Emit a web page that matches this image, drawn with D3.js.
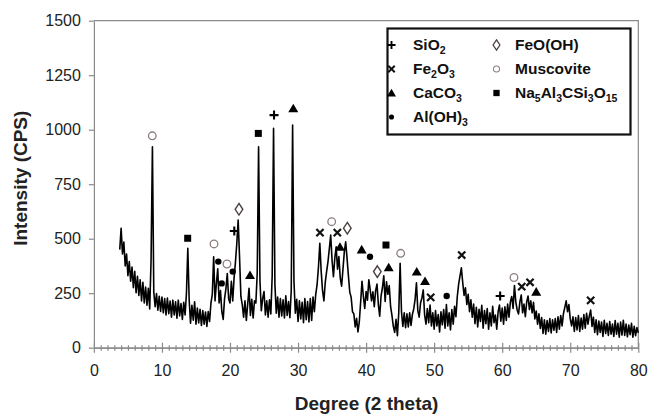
<!DOCTYPE html>
<html>
<head>
<meta charset="utf-8">
<script src="https://cdn.jsdelivr.net/npm/d3@7"></script>
<style>
  body { margin: 0; background: #fff; }
  text { font-family: "Liberation Sans", Arial, sans-serif; }
</style>
</head>
<body>
<svg id="xrd" width="648" height="416"></svg>
<script>
// scan: start angle and step (degrees 2 theta)
var startAngle = 3.8;
var stepAngle = 0.2;

// intensity, one value per step
var counts = [
  450, 548, 430, 485, 375, 430, 330, 395, 305, 370,
  275, 350, 252, 328, 240, 312, 215, 300, 205, 278,
  195, 272, 178, 400, 922, 255, 188, 248, 172, 236,
  166, 232, 160, 225, 150, 228, 156, 214, 140, 218,
  150, 210, 135, 218, 146, 202, 130, 208, 150, 250,
  456, 220, 112, 195, 126, 210, 108, 182, 114, 176,
  102, 170, 108, 164, 98, 166, 120, 205, 245, 417,
  215, 295, 362, 205, 262, 165, 130, 225, 270, 340,
  225, 205, 305, 215, 320, 392, 478, 586, 418, 235,
  198, 140, 215, 125, 200, 273, 148, 222, 136, 215,
  205, 340, 922, 310, 170, 225, 258, 150, 215, 140,
  220, 155, 330, 1006, 290, 158, 232, 140, 225, 146,
  220, 136, 238, 148, 212, 138, 262, 1021, 305, 158,
  222, 120, 215, 132, 208, 115, 225, 128, 212, 118,
  225, 125, 232, 165, 245, 290, 370, 479, 350, 262,
  215, 300, 350, 395, 455, 517, 400, 326, 410, 463,
  360, 418, 320, 282, 360, 440, 486, 410, 330, 255,
  232, 165, 155, 95, 135, 72, 118, 210, 305, 235,
  180, 258, 218, 312, 265, 215, 256, 188, 262, 292,
  198, 145, 238, 275, 330, 212, 302, 245, 285, 188,
  148, 98, 70, 130, 55, 160, 387, 165, 98, 160,
  92, 155, 95, 160, 102, 152, 178, 222, 298, 170,
  140, 205, 228, 265, 150, 108, 180, 115, 196, 100,
  160, 85, 170, 100, 152, 72, 165, 105, 175, 90,
  198, 100, 160, 82, 175, 108, 190, 142, 235, 292,
  330, 366, 298, 240, 275, 198, 245, 165, 220, 140,
  200, 110, 185, 95, 176, 120, 195, 90, 170, 110,
  180, 85, 160, 100, 190, 115, 150, 85, 165, 196,
  122, 182, 108, 188, 125, 200, 140, 210, 235, 180,
  285, 210, 172, 155, 210, 242, 160, 200, 142, 210,
  237, 175, 215, 160, 208, 132, 168, 108, 155, 88,
  138, 65, 128, 62, 124, 75, 134, 68, 128, 80,
  134, 70, 142, 85, 148, 100, 156, 185, 215, 165,
  198, 132, 100, 142, 75, 138, 82, 148, 75, 136,
  85, 152, 90, 158, 108, 145, 173, 98, 140, 70,
  128, 60, 122, 70, 118, 52, 126, 65, 112, 56,
  120, 62, 108, 52, 125, 62, 112, 48, 118, 58,
  126, 56, 108, 50, 104, 60, 112, 48, 98, 55,
  92, 68
];

var xTicks = [0, 10, 20, 30, 40, 50, 60, 70, 80];
var yTicks = [0, 250, 500, 750, 1000, 1250, 1500];

// phase labels, placed at [2 theta, CPS]
var sio2Peaks = [[20.63, 535], [26.47, 1067], [59.7, 237]];
var fe2o3Peaks = [[33.22, 528], [35.77, 528], [49.49, 231], [54.05, 425], [62.87, 280], [64.09, 300], [73.0, 217]];
var caco3Peaks = [[22.94, 333], [29.3, 1098], [36.16, 463], [39.35, 451], [43.32, 369], [47.44, 349], [48.66, 306], [65.0, 257]];
var aloh3Peaks = [[18.28, 395], [18.78, 295], [20.4, 349], [40.57, 417], [51.84, 237]];
var feoohPeaks = [[21.32, 635], [37.24, 548], [41.65, 349]];
var muscovitePeaks = [[8.58, 972], [17.65, 476], [19.55, 384], [34.94, 578], [45.08, 433], [61.73, 322]];
var naPeaks = [[13.78, 502], [24.16, 983], [42.92, 471]];

var phases = [
  {name: "SiO2", mark: "plus", peaks: sio2Peaks},
  {name: "Fe2O3", mark: "cross", peaks: fe2o3Peaks},
  {name: "CaCO3", mark: "triangle", peaks: caco3Peaks},
  {name: "Al(OH)3", mark: "dot", peaks: aloh3Peaks},
  {name: "FeO(OH)", mark: "diamond", peaks: feoohPeaks},
  {name: "Muscovite", mark: "circle", peaks: muscovitePeaks},
  {name: "Na5Al3CSi3O15", mark: "square", peaks: naPeaks}
];

var svg = d3.select("#xrd"),
  margin = {top: 20.7, right: 9.7, bottom: 68.3, left: 93.9},
  width = +svg.attr("width") - margin.left - margin.right,
  height = +svg.attr("height") - margin.top - margin.bottom,
  g = svg.append("g").attr("transform", "translate(" + margin.left + "," + margin.top + ")");

var frameColor = "#8a8a8a";

var x = d3.scaleLinear().domain([0, 80]).range([0, width]);
var y = d3.scaleLinear().domain([0, 1500]).range([height, 0]);

// frame top and right
g.append("path")
  .attr("d", "M0,0H" + width + "V" + height)
  .attr("fill", "none")
  .attr("stroke", frameColor)
  .attr("stroke-width", 1.2);

// y axis
var yAxis = g.append("g")
  .call(d3.axisLeft(y).tickValues(yTicks).tickFormat(d3.format("d"))
    .tickSize(5).tickSizeOuter(0).tickPadding(8));

// x axis minor ticks every degree
var minor = d3.range(0, 81).filter(function(v) { return v % 10 != 0; });
var xMinor = g.append("g")
  .attr("transform", "translate(0," + height + ")")
  .call(d3.axisBottom(x).tickValues(minor).tickSize(3).tickSizeOuter(0).tickFormat(""));
xMinor.selectAll(".tick line").attr("y1", -2.5);

var xAxis = g.append("g")
  .attr("transform", "translate(0," + height + ")")
  .call(d3.axisBottom(x).tickValues(xTicks).tickSize(5).tickSizeOuter(0).tickPadding(12));
xAxis.selectAll(".tick line").attr("y1", -5);

[yAxis, xMinor, xAxis].forEach(function(a) {
  a.select(".domain").attr("stroke", frameColor).attr("stroke-width", 1.2);
  a.selectAll(".tick line").attr("stroke", frameColor).attr("stroke-width", 1.2);
  a.selectAll(".tick text")
    .attr("fill", "#222")
    .style("font-size", "16px")
    .style("font-family", "'Liberation Sans', Arial, sans-serif");
});

// axis titles
g.append("text")
  .attr("x", x(40) + 0.5)
  .attr("y", height + 62)
  .attr("text-anchor", "middle")
  .style("font-size", "19px")
  .style("font-weight", "bold")
  .attr("fill", "#222")
  .text("Degree (2 theta)");

g.append("text")
  .attr("transform", "translate(" + (-67) + "," + (y(750) - 6) + ") rotate(-90)")
  .attr("text-anchor", "middle")
  .style("font-size", "19px")
  .style("font-weight", "bold")
  .attr("fill", "#222")
  .text("Intensity (CPS)");

// the scan
var scan = counts.map(function(c, i) { return [startAngle + i * stepAngle, c]; });
var line = d3.line()
  .x(function(d) { return x(d[0]); })
  .y(function(d) { return y(d[1]); });

g.append("path")
  .datum(scan)
  .attr("d", line)
  .attr("fill", "none")
  .attr("stroke", "#000")
  .attr("stroke-width", 1.6)
  .attr("stroke-linejoin", "round");

// phase symbols
function drawMark(sel, kind, cx, cy, s) {
  var m = sel.append("g").attr("transform", "translate(" + cx + "," + cy + ") scale(" + s + ")");
  if (kind == "plus") {
    m.append("path").attr("d", "M-4.5,0H4.5M0,-4.5V4.5")
      .attr("stroke", "#000").attr("stroke-width", 2.1);
  } else if (kind == "cross") {
    m.append("path").attr("d", "M-3.6,-3.6L3.6,3.6M3.6,-3.6L-3.6,3.6")
      .attr("stroke", "#111").attr("stroke-width", 2.2);
  } else if (kind == "triangle") {
    m.append("path").attr("d", "M0,-4.6L5,4L-5,4Z").attr("fill", "#000");
  } else if (kind == "dot") {
    m.append("circle").attr("r", 3.2).attr("fill", "#000");
  } else if (kind == "diamond") {
    m.append("path").attr("d", "M0,-5.8L3.8,0L0,5.8L-3.8,0Z")
      .attr("fill", "#fff").attr("stroke", "#4a3d3d").attr("stroke-width", 1.4);
  } else if (kind == "circle") {
    m.append("circle").attr("r", 3.8)
      .attr("fill", "#fff").attr("stroke", "#8c7e7e").attr("stroke-width", 1.3);
  } else if (kind == "square") {
    m.append("rect").attr("x", -3.5).attr("y", -3.5).attr("width", 7).attr("height", 7).attr("fill", "#000");
  }
}

var marks = g.append("g").attr("class", "marks");
phases.forEach(function(p) {
  p.peaks.forEach(function(d) {
    drawMark(marks, p.mark, x(d[0]), y(d[1]), 1);
  });
});

// legend
function formula(t, str) {
  var parts = str.match(/\d+|\D+/g);
  var shift = 0;
  parts.forEach(function(part) {
    var sub = /\d/.test(part);
    var dy = sub ? 4 - shift : -shift;
    var ts = t.append("tspan").attr("dy", dy).text(part);
    if (sub) ts.style("font-size", "10.5px");
    shift = sub ? 4 : 0;
  });
}

var key = svg.append("g").attr("class", "legend");
key.append("rect")
  .attr("x", 387.5).attr("y", 28.5)
  .attr("width", 243).attr("height", 106)
  .attr("fill", "#fff")
  .attr("stroke", "#111")
  .attr("stroke-width", 2.2);

var legendPos = [
  [391.5, 50], [391.5, 74], [391.5, 98], [391.5, 122],
  [496.5, 50], [496.5, 74], [496.5, 98]
];

phases.forEach(function(p, i) {
  var pos = legendPos[i];
  var s = p.mark == "circle" ? 0.8 : (p.mark == "dot" ? 0.8 : 0.9);
  drawMark(key, p.mark, pos[0], pos[1] - 5, s);
  var t = key.append("text")
    .attr("x", pos[0] + (i < 4 ? 21.5 : 18.5))
    .attr("y", pos[1])
    .attr("fill", "#111")
    .style("font-size", "15.5px")
    .style("font-weight", "bold");
  formula(t, p.name);
});
</script>
</body>
</html>
